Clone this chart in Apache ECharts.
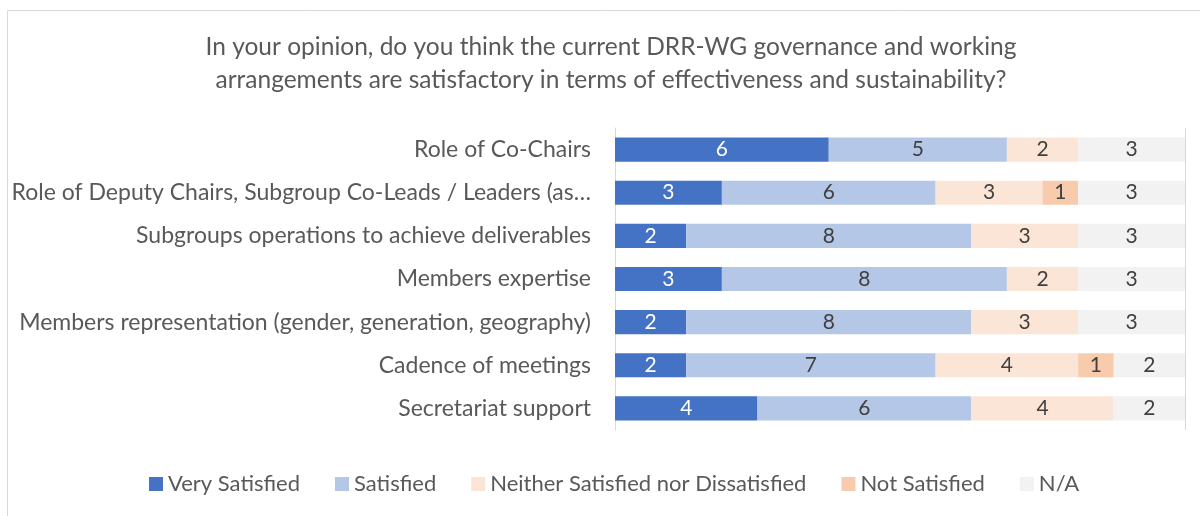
<!DOCTYPE html>
<html><head><meta charset="utf-8">
<script src="https://cdn.jsdelivr.net/npm/echarts@6/dist/echarts.min.js"></script>
<style>html,body{margin:0;padding:0;background:#fff}#c{width:1200px;height:516px}</style>
</head><body><div id="c"></div>
<script>
const categories = [
  "Role of Co-Chairs",
  "Role of Deputy Chairs, Subgroup Co-Leads / Leaders (as…",
  "Subgroups operations to achieve deliverables",
  "Members expertise",
  "Members representation (gender, generation, geography)",
  "Cadence of meetings",
  "Secretariat support"
];
const verySatisfied = [6, 3, 2, 3, 2, 2, 4];
const satisfied = [5, 6, 8, 8, 8, 7, 6];
const neither = [2, 3, 3, 2, 3, 4, 4];
const notSatisfied = [0, 1, 0, 0, 0, 1, 0];
const na = [3, 3, 3, 3, 3, 2, 2];
const seriesNames = ["Very Satisfied", "Satisfied", "Neither Satisfied nor Dissatisfied", "Not Satisfied", "N/A"];
const titleText = "In your opinion, do you think the current DRR-WG governance and working\narrangements are satisfactory in terms of effectiveness and sustainability?";
const colors = ["#4472C4", "#B4C7E7", "#FBE5D6", "#F8CBAD", "#F2F2F2"];
const labelColors = ["#ffffff", "#404040", "#404040", "#404040", "#404040"];
const FONT = "Lato";

const chart = echarts.init(document.getElementById('c'), null, {renderer: 'canvas'});
const dataSets = [verySatisfied, satisfied, neither, notSatisfied, na];
const cats = categories.slice().reverse();
const series = dataSets.map((d, i) => ({
  name: seriesNames[i],
  type: 'bar',
  stack: 'total',
  barWidth: '56%',
  data: d.slice().reverse().map(v => v === 0 ? null : v),
  itemStyle: {color: colors[i]},
  label: {show: true, position: 'inside', color: labelColors[i], fontFamily: FONT, fontSize: 21},
  emphasis: {disabled: true}
}));
chart.setOption({
  animation: false,
  backgroundColor: '#ffffff',
  graphic: [
    {type: 'rect', shape: {x: 7.5, y: 10.5, width: 1210, height: 520}, style: {fill: 'none', stroke: '#d9d9d9', lineWidth: 1}, silent: true},
    {type: 'text', x: 611, y: 31, silent: true,
     style: {text: titleText, align: 'center', verticalAlign: 'top', fontFamily: FONT, fontSize: 24.5, fill: '#595959', lineHeight: 33}}
  ],
  legend: {
    top: 468, left: 144, itemWidth: 14, itemHeight: 14, itemGap: 35,
    icon: 'rect',
    textStyle: {fontFamily: FONT, fontSize: 22, color: '#595959', padding: [0, 0, 0, 0]},
    data: seriesNames
  },
  grid: {left: 615, right: 15, top: 128, bottom: 86},
  xAxis: {
    type: 'value', min: 0, max: 16, interval: 16,
    axisLabel: {show: false}, axisTick: {show: false}, axisLine: {show: false},
    splitLine: {show: true, lineStyle: {color: '#d9d9d9'}}
  },
  yAxis: {
    type: 'category', data: cats,
    axisTick: {show: false},
    axisLine: {show: true, lineStyle: {color: '#d9d9d9'}},
    axisLabel: {fontFamily: FONT, fontSize: 23, color: '#595959', margin: 24}
  },
  series: series
});
</script></body></html>
